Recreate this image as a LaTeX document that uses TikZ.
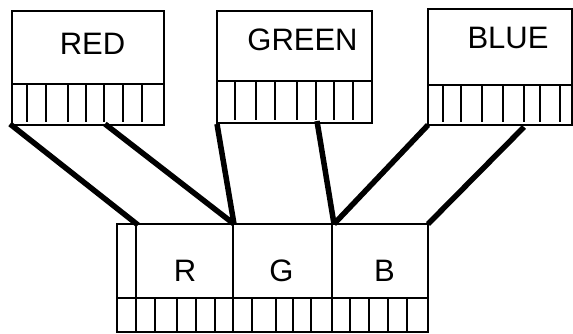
\documentclass[tikz,border=0pt]{standalone}
\usepackage{fontspec}
\setmainfont{Liberation Sans}
\begin{document}
\begin{tikzpicture}[x=1pt,y=-1pt,
  box/.style={line width=2.3pt},
  wire/.style={line width=5.5pt},
  lbl/.style={anchor=base, inner sep=0pt, font=\fontsize{31}{32}\selectfont}]
\useasboundingbox (0,0) rectangle (573,333);
% RED register
\draw[box] (12,11) rectangle (164,125);
\draw[box] (12,84) -- (164,84);
\foreach \x in {27,46,68,86,104,123,142} \draw[box] (\x,84) -- (\x,122);
\node[lbl] (red) at (92.5,54) {RED};
% GREEN register
\draw[box] (217,11) rectangle (372,123);
\draw[box] (217,81) -- (372,81);
\foreach \x in {235,256,275,297,316,334,353} \draw[box] (\x,81) -- (\x,120);
\node[lbl] (green) at (302.5,50) {GREEN};
% BLUE register
\draw[box] (428,9) rectangle (572,125);
\draw[box] (428,85) -- (572,85);
\foreach \x in {443,461,482,503,524,540,560} \draw[box] (\x,85) -- (\x,122);
\node[lbl] (blue) at (508,48) {BLUE};
% RGB register
\draw[box] (117,224) rectangle (428,332);
\draw[box] (117,298) -- (428,298);
\foreach \x in {136,233,332} \draw[box] (\x,224) -- (\x,332);
\foreach \x in {155,177,196,215,252,276,293,311,350,369,388,407} \draw[box] (\x,298) -- (\x,332);
\node[lbl] (r) at (185,281.5) {R};
\node[lbl] (g) at (281.5,281.5) {G};
\node[lbl] (b) at (384.5,281.5) {B};
% connector ends
\coordinate (ra) at (10,124);
\coordinate (rb) at (105,124);
\coordinate (ga) at (217,124);
\coordinate (gb) at (317,121);
\coordinate (ba) at (428,125);
\coordinate (bb) at (524,127);
\coordinate (ta) at (138,225);
\coordinate (tb) at (234,224);
\coordinate (tc) at (334,224);
\coordinate (td) at (428,224);
\draw[wire] (ra) -- (ta);
\draw[wire] (rb) -- (tb);
\draw[wire] (ga) -- (tb);
\draw[wire] (gb) -- (tc);
\draw[wire] (ba) -- (tc);
\draw[wire] (bb) -- (td);
\end{tikzpicture}
\end{document}
